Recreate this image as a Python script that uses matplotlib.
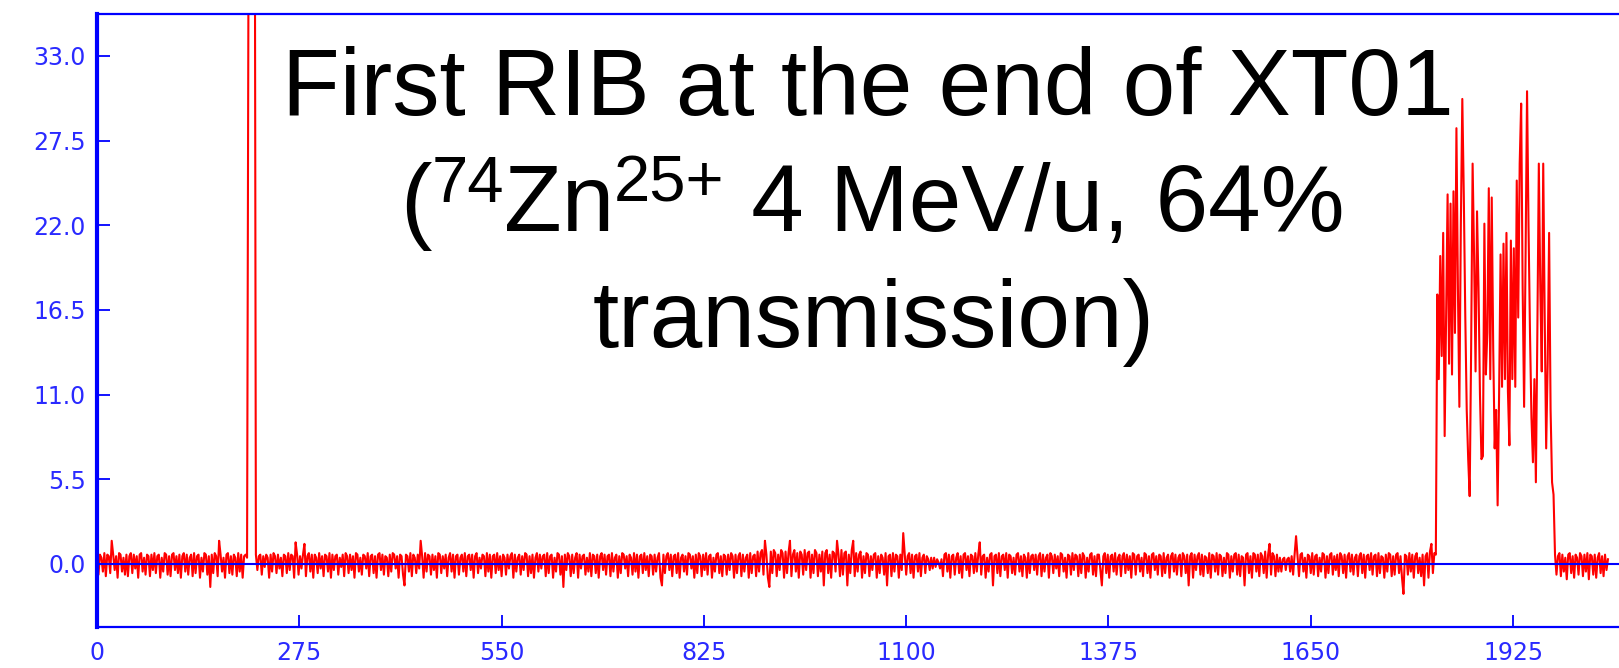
import numpy as np
import matplotlib.pyplot as plt

# ------------------------------------------------------------------
# data
# ------------------------------------------------------------------
# baseline noise before the first spike, channel 0 upward (every 2)
noise_pre = [
    0.5, -0.7, 0.6, 0.4, -0.5, 0.7, -0.8, 0.6, 0.5, -0.6, 1.5, 0.6, -0.4, 0.5, -0.9, 0.7, 0.6, -0.5, 0.4, -0.7,
    0.6, -0.8, 0.5, 0.7, -0.6, 0.6, -0.3, 0.5, -0.9, 0.6, 0.7, -0.5, 0.4, -0.7, 0.6, 0.5, -0.8, 0.6, -0.4, 0.7,
    -0.6, 0.5, 0.6, -0.9, 0.4, -0.5, 0.7, 0.6, -0.7, 0.5, -0.8, 0.6, 0.7, -0.4, 0.5, -0.6, 0.6, -0.9, 0.5, 0.7,
    -0.5, 0.6, -0.7, 0.4, 0.6, -0.8, 0.7, -0.6, 0.5, 0.6, -0.9, 0.4, -0.5, 0.7, 0.6, -0.7, 0.5, -1.5, 0.6, -0.6,
    0.7, 0.5, -0.8, 1.5, 0.6, -0.5, 0.4, -0.9, 0.6, 0.7, -0.6, 0.5, -0.7, 0.6, 0.4, -0.8, 0.7, -0.5, 0.6, -0.9,
    0.5, 0.6, 0.4,
]
# saturated spike (goes off the top of the plot)
spike_x = [207, 214]
spike_y = [60.0, 60.0]
# baseline noise, channel 216 upward (every 2)
noise_mid = [
    0.6, -0.4, 0.5, 0.6, -0.7, 0.5, -0.2, 0.6, 0.4, -0.9, 0.6, -0.5, 0.7, 0.5, -0.6, 0.6, -0.3, 0.4, -0.8, 0.6,
    0.5, -0.6, 0.7, -0.4, 0.6, 0.5, -0.9, 1.4, 0.6, -0.7, 0.5, -0.3, 0.6, 1.3, -0.8, 0.5, 0.7, -0.5, 0.6, -0.9,
    0.6, 0.4, -0.6, 0.7, -0.3, 0.5, -0.8, 0.6, 0.5, -0.5, 0.7, -0.9, 0.6, -0.4, 0.5, 0.6, -0.7, 0.4, -0.2, 0.6,
    -0.8, 0.7, 0.5, -0.6, 0.6, -0.4, 0.5, -0.9, 0.7, 0.6, -0.5, 0.4, -0.7, 0.6, 0.5, -0.3, 0.7, -0.8, 0.5, 0.6,
    -0.6, 0.5, -0.9, 0.6, 0.7, -0.4, 0.6, -0.7, 0.5, 0.4, -0.8, 0.6, -0.5, 0.7, 0.6, -0.3, 0.5, -0.9, 0.6, 0.5,
    -0.7, -1.4, 0.6, 0.5, -0.5, 0.7, -0.8, 0.6, 0.4, -0.6, 0.6, -0.3, 1.5, 0.5, -0.9, 0.7, -0.5, 0.6, 0.5, -0.7,
    0.6, -0.4, 0.5, -0.9, 0.7, 0.6, -0.6, 0.5, -0.3, 0.6, -0.8, 0.4, 0.7, -0.5, 0.6, -0.9, 0.5, 0.6, -0.7, 0.4,
    0.6, -0.5, 0.7, -0.8, 0.5, 0.6, -0.4, 0.6, -0.9, 0.5, 0.7, -0.6, 0.4, -0.3, 0.6, 0.5, -0.8, 0.7, -0.5, 0.6,
    -0.9, 0.5, 0.6, -0.6, 0.7, -0.4, 0.5, -0.8, 0.6, 0.4, -0.7, 0.6, -0.3, 0.5, 0.7, -0.9, 0.6, -0.5, 0.4, 0.6,
    -0.7, 0.5, -0.4, 0.7, 0.6, -0.8, 0.5, -0.6, 0.6, -0.9, 0.4, 0.7, -0.5, 0.6, -0.3, 0.5, 0.6, -0.8, 0.7, -0.6,
    0.5, 0.6, -0.9, 0.4, -0.5, 0.7, 0.6, -0.7, 0.5, -1.5, 0.6, -0.4, 0.7, 0.5, -0.8, 0.6, -0.6, 0.4, 0.7, -0.9,
    0.6, -0.3, 0.5, 0.6, -0.7, 0.4, -0.5, 0.7, -0.8, 0.6, 0.5, -0.6, 0.6, -0.9, 0.5, 0.7, -0.4, 0.6, -0.7, 0.5,
    0.6, -0.8, 0.7, -0.5, 0.4, 0.6, -0.9, 0.5, -0.6, 0.7, 0.6, -0.3, 0.5, -0.8, 0.6, 0.4, -0.7, 0.7, -0.5, 0.6,
    -0.9, 0.5, 0.6, -0.6, 0.7, -0.4, 0.5, -0.8, 0.6, 0.5, -0.7, 0.6, -0.5, 0.4, 0.7, -0.9, -1.4, 0.6, -0.6, 0.5,
    0.7, -0.4, 0.6, -0.8, 0.5, 0.6, -0.6, 0.7, -0.9, 0.4, 0.6, -0.5, 0.5, -0.7, 0.7, 0.6, -0.3, 0.5, -0.9, 0.6,
    -0.6, 0.7, 0.5, -0.8, 0.6, -0.4, 0.7, -0.7, 0.5, 0.6, -0.9, 0.4, -0.5, 0.6, 0.7, -0.6, 0.5, -0.8, 0.6, 0.5,
    -0.7, 0.6, -0.4, 0.7, 0.5, -0.9, 0.6, -0.6, 0.5, 0.7, -0.8, 0.6, -0.5, 0.4, 0.6, -0.9, 0.7, -0.6, 0.5, 0.6,
    -0.8, 0.8, -0.5, 0.7, 0.9, -0.7, 1.5, 0.6, -0.9, -1.5, 0.8, -0.6, 0.9, 0.7, -0.8, 0.6, -0.4, 0.9, 0.7, -0.9,
    0.8, -0.6, 0.7, 1.5, -0.8, 0.6, 0.9, -0.5, 0.7, -0.9, 0.8, 0.6, -0.7, 0.9, -0.4, 0.7, 0.8, -0.9, 0.6, -0.6,
    0.9, 0.7, -0.8, 0.6, -0.5, 0.8, -1.4, 0.7, 0.9, -0.6, 0.6, -0.9, 0.8, 0.7, -0.5, 1.5, 0.6, -0.8, 0.9, -0.7,
    0.7, 0.8, -1.4, 0.6, -0.6, 0.9, 1.5, -0.8, 0.7, -0.5, 0.6, 0.8, -0.9, 0.5, -0.6, 0.7, 0.6, -0.8, 0.5, -0.4,
    0.6, 0.7, -0.9, 0.5, -0.6, 0.6, 0.4, -0.7, 0.7, -1.4, 0.5, 0.6, -0.8, 0.7, -0.5, 0.6, 0.5, -0.9, 0.6, -0.4,
    2.0, 0.6, -0.7, 0.5, 0.7, -0.6, 0.6, -0.9, 0.5, 0.6, -0.5, 0.7, -0.8, 0.4, 0.6, -0.6, 0.5, 0.3, -0.4, 0.4,
    -0.3, 0.4, -0.2, 0.3, 0.1, -0.3, 0.3, -0.8, 0.6, 0.7, -0.5, 0.6, -0.9, 0.5, 0.6, -0.7, 0.4, 0.7, -0.6, 0.5,
    -0.9, 0.6, 0.7, -0.4, 0.5, -0.8, 0.6, 0.5, -0.6, 0.7, -0.5, 0.6, 1.4, -0.7, 0.5, 0.6, -0.9, 0.4, -0.5, 0.6,
    0.7, -1.4, 0.5, 0.6, -0.6, 0.7, -0.8, 0.5, 0.6, -0.4, 0.7, -0.9, 0.6, 0.5, -0.6, 0.4, -0.7, 0.6, 0.7, -0.5,
    0.5, -0.8, 0.6, 0.4, -0.9, 0.7, -0.6, 0.5, 0.6, -0.4, 0.6, -0.7, 0.5, 0.7, -0.8, 0.6, -0.5, 0.4, 0.6, -0.9,
    0.7, 0.5, -0.6, 0.6, -0.3, 0.5, -0.8, 0.7, 0.6, -0.5, 0.4, -0.9, 0.6, 0.5, -0.7, 0.7, -0.4, 0.6, 0.5, -0.8,
    0.6, -0.6, 0.7, 0.5, -0.9, 0.4, -0.5, 0.6, 0.7, -0.7, 0.5, -0.8, 0.6, 0.6, -0.4, -1.4, 0.5, 0.7, -0.6, 0.6,
    -0.9, 0.5, 0.6, -0.5, 0.7, -0.7, 0.4, 0.6, -0.8, 0.5, 0.7, -0.6, 0.6, -0.4, 0.5, -0.9, 0.7, 0.6, -0.7, 0.5,
    0.6, -0.5, 0.4, -0.8, 0.7, 0.6, -0.6, 0.5, -0.9, 0.6, 0.7, -0.4, 0.5, -0.7, 0.6, 0.5, -0.8, 0.7, -0.6, 0.4,
    0.6, -0.9, 0.5, 0.7, -0.5, 0.6, -0.7, 0.4, 0.6, -0.8, 0.7, 0.5, -0.6, 0.6, -1.4, 0.5, 0.7, -0.9, 0.6, -0.4,
    0.5, 0.7, -0.7, 0.6, -0.8, 0.5, 0.4, -0.6, 0.7, -0.9, 0.6, 0.5, -0.5, 0.7, -0.7, 0.6, 0.5, -0.8, 0.4, -0.6,
    0.7, 0.6, -0.9, 0.5, -0.5, 0.6, 0.7, -0.7, 0.6, -0.8, 0.5, 0.4, -1.4, 0.6, 0.7, -0.6, 0.5, -0.9, 0.7, 0.6,
    -0.5, 0.6, -0.8, 0.7, 0.5, -0.6, 0.8, -0.9, 0.6, 1.3, -0.7, 0.7, 0.5, -0.8, 0.6, -0.5, 0.4, -0.5, 0.3, 0.4,
    -0.4, 0.3, 0.4, -0.5, 0.5, -0.7, 0.6, 1.8, 0.5, -0.8, 0.6, 0.7, -0.5, 0.4, -0.9, 0.6, 0.5, -0.6, 0.7, -0.7,
    0.5, 0.6, -0.8, 0.4, -0.5, 0.7, 0.6, -0.9, 0.5, -0.6, 0.6, 0.7, -0.7, 0.5, -0.4, 0.6, -0.8, 0.7, 0.5, -0.6,
    0.6, -0.9, 0.5, 0.7, -0.5, 0.6, -0.7, 0.4, 0.6, -0.8, 0.5, 0.7, -0.6, 0.6, -0.9, 0.5, 0.6, -0.4, 0.7, -0.7,
    0.5, 0.6, -0.8, 0.7, -0.6, 0.5, 0.4, -0.9, 0.6, -0.5, 0.7, 0.6, -0.8, 0.5, -0.7, 0.6, 0.7, -0.6, 0.5, -0.9,
    -1.95, 0.6, 0.5, -0.7, 0.7, -0.5, 0.6, -0.9, 0.5, 0.7, -0.6, 0.4, -0.8, 0.6, -1.4, 0.5, 0.7, -0.9, 0.8, 1.3,
    -0.6, 0.7, 0.6,
]
# RIB pulse, channel 1822 upward (every 2)
beam = [
    17.5, 12.0, 20.0, 13.5, 21.5, 8.3, 16.0, 24.0, 13.0, 23.4,
    12.3, 24.2, 15.0, 28.3, 18.0, 10.2, 22.0, 30.2, 24.0, 16.2,
    10.0, 6.8, 4.4, 14.0, 26.0, 20.0, 12.5, 22.9, 18.0, 11.0,
    6.8, 7.0, 22.1, 12.3, 15.0, 24.4, 12.0, 23.8, 14.0, 7.5,
    10.0, 3.8, 11.0, 20.1, 11.5, 20.8, 12.0, 21.5, 11.2, 7.7,
    21.0, 12.0, 20.5, 11.5, 24.9, 16.0, 26.0, 29.9, 18.0, 10.2,
    20.0, 30.7, 22.0, 15.0, 9.5, 6.6, 12.0, 5.3, 15.0, 26.0,
    18.0, 12.5, 26.0, 16.0, 7.5, 13.0, 21.5, 10.0, 5.3, 4.5,
]
# baseline noise after the pulse, channel 1982 upward (every 2)
noise_post = [
    0.6, -0.7, 0.5, 0.7, -0.8, 0.6, -0.5, 0.4, -1.0, 0.6, 0.7, -0.6, 0.5, -0.9, 0.6, 0.4, -0.7, 0.7, 0.5, -0.8,
    0.6, -0.5, 0.7, -1.0, 0.6, 0.5, -0.7, 0.6, -0.9, 0.4, 0.7, -0.6, 0.5, -0.8, 0.6, -0.4, 0.3,
]

x_ticks = [0, 275, 550, 825, 1100, 1375, 1650, 1925]
y_ticks = [0.0, 5.5, 11.0, 16.5, 22.0, 27.5, 33.0]

title_1 = "First RIB at the end of XT01"
# second line: (text, superscript?)
title_2 = [("(", False), ("74", True), ("Zn", False), ("25+", True), (" 4 MeV/u, 64%", False)]
title_3 = "transmission)"


def main():
    W, H = 1619, 668
    fig = plt.figure(figsize=(W / 100, H / 100), dpi=100)
    ax = fig.add_axes([97 / W, 41 / H, (W - 97) / W, (627 - 13.5) / H])

    # channel numbers for each block of samples
    x_pre = 0 + 2 * np.arange(len(noise_pre))
    x_mid = 216 + 2 * np.arange(len(noise_mid))
    x_beam = 1822 + 2 * np.arange(len(beam))
    x_post = 1982 + 2 * np.arange(len(noise_post))

    x_all = np.concatenate([x_pre, spike_x, x_mid, x_beam, x_post])
    y_all = np.concatenate([noise_pre, spike_y, noise_mid, beam, noise_post])
    ax.plot(x_all, y_all, color="#ff0000", lw=1.5, zorder=2)

    ax.axhline(0, color="#0000ff", lw=1.5, zorder=3)

    ax.set_xlim(0, 2069)
    ax.set_ylim(-4.1, 35.75)
    ax.set_xticks(x_ticks)
    ax.set_yticks(y_ticks)
    ax.set_yticklabels([f"{v:.1f}" for v in y_ticks])

    blue = "#0000ff"
    ax.spines["right"].set_visible(False)
    ax.spines["left"].set_linewidth(3.0)
    ax.spines["top"].set_linewidth(1.6)
    ax.spines["bottom"].set_linewidth(1.6)
    for s in ax.spines.values():
        s.set_color(blue)
    ax.tick_params(axis="both", direction="in", length=9, width=1.3, color=blue,
                   labelcolor="#2a2aff", labelsize=17)
    ax.tick_params(axis="y", pad=8, right=False)
    ax.tick_params(axis="x", pad=10, top=False)

    # title block in black Arial-like font, placed in pixel coordinates
    tfont = dict(family="Liberation Sans", color="black")
    big = 68
    small = 47
    fig.text(868 / W, 1 - 115 / H, title_1, fontsize=big, ha="center", va="baseline", **tfont)
    fig.text(874 / W, 1 - 347 / H, title_3, fontsize=big, ha="center", va="baseline", **tfont)

    renderer = fig.canvas.get_renderer()
    widths = []
    for s, sup in title_2:
        t = fig.text(0, 0, s.replace(" ", "\u00a0"), fontsize=small if sup else big, **tfont)
        widths.append(t.get_window_extent(renderer).width)
        t.remove()
    x0 = 872 - sum(widths) / 2
    base = 231
    for (s, sup), w in zip(title_2, widths):
        y = base - 29 if sup else base
        fig.text(x0 / W, 1 - y / H, s.replace(" ", "\u00a0"), fontsize=small if sup else big,
                 ha="left", va="baseline", **tfont)
        x0 += w

    fig.savefig("out.png", dpi=100)


if __name__ == "__main__":
    main()
